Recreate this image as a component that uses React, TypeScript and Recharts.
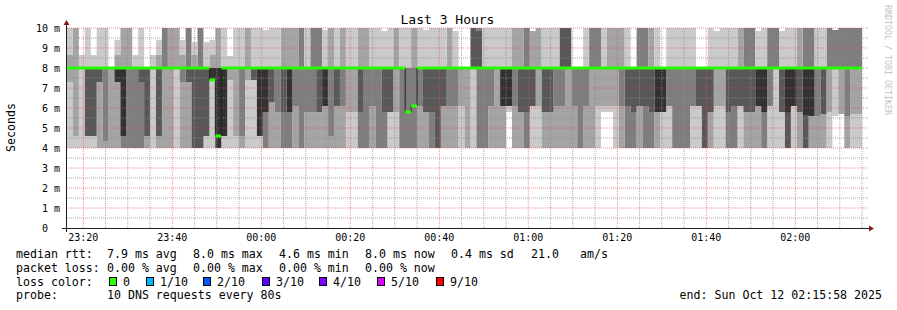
import { Area, ComposedChart, ReferenceLine, XAxis, YAxis } from "recharts"

const FONT = '"DejaVu Sans Mono", monospace'

// time axis in minutes after 23:00, graph covers 3 hours of 80 s steps
const startMin = 16 + 20 / 60
const stepMin = 80 / 60
const spanMin = 180

// the 10 sorted ping times (ms) of each 80 s step, 12 = above the top of the graph
const pings: number[][] = [
  [4, 7.3, 8, 8, 8, 8, 8, 8, 8.65, 12],
  [4, 4.6, 8, 8, 8, 8, 8, 8, 12, 12],
  [4, 8, 8, 8, 8, 8, 8, 8, 8, 8.65],
  [4, 4.6, 4.6, 4.6, 8, 8, 8, 8, 8, 12],
  [4, 4.6, 4.6, 4.6, 8, 8, 8, 8, 8, 8.65],
  [4, 4, 7.3, 7.3, 8, 8, 8, 8, 8, 12],
  [4, 4, 4.35, 8, 8, 8, 8, 8, 8, 12],
  [4, 4, 8, 8, 8, 8, 8, 8, 8, 8],
  [4, 4, 7.3, 7.3, 7.3, 8, 8, 8, 8.65, 9.4],
  [4, 4, 4, 4.6, 4.6, 8, 8, 8, 12, 12],
  [4, 4, 4, 8, 8, 8, 8, 8, 12, 12],
  [4, 4, 4, 8, 8, 8, 8, 8, 8, 8.65],
  [4, 4, 4, 7.3, 8, 8, 8, 8, 8, 12],
  [4, 4, 4.6, 4.6, 8, 8, 8, 8, 8, 8],
  [4, 8, 8, 8, 8, 8, 8, 8, 8, 8.65],
  [4, 4, 4.6, 4.6, 8, 8, 8, 8, 8.65, 9.4],
  [4, 4, 8, 8, 8, 8, 8, 12, 12, 12],
  [4, 4, 8, 8, 8, 8, 8, 8, 12, 12],
  [4, 8, 8, 8, 8, 8, 8, 8, 12, 12],
  [4, 4, 7.3, 8, 8, 8, 8, 8, 8.65, 9.4],
  [4, 4, 7.3, 7.3, 8, 8, 8, 12, 12, 12],
  [4, 4, 4, 4, 8, 8, 8, 8, 8.65, 9.3],
  [4, 4, 4, 4, 8, 8, 8, 12, 12, 12],
  [4, 4.6, 4.6, 4.6, 8, 8, 8, 8, 8, 9.3],
  [4, 7.4, 7.4, 7.4, 7.4, 8, 8, 8, 8.65, 9.4],
  [4, 4, 4, 4, 4, 8, 8, 8, 12, 12],
  [4, 4.6, 4.6, 4.6, 4.6, 8, 8, 8, 8, 12],
  [4, 7.4, 8, 8, 8, 8, 8, 8, 8, 8.6],
  [4, 4.6, 8, 8, 8, 8, 8, 8, 8, 12],
  [4, 4, 4.6, 8, 8, 8, 8, 8, 8, 12],
  [4, 7.4, 8, 8, 8, 8, 8, 8, 12, 12],
  [4, 7.4, 7.4, 7.4, 8, 8, 8, 8, 8, 12],
  [4, 4.6, 4.6, 4.6, 4.6, 8, 8, 8, 8, 12],
  [4, 4, 4, 5.8, 5.8, 8, 8, 8, 8, 9.9],
  [4, 4, 6.3, 6.3, 8, 8, 8, 8, 8, 12],
  [4, 4, 5.8, 8, 8, 8, 8, 8, 8, 12],
  [4, 4, 4, 5.8, 8, 8, 8, 8, 12, 12],
  [4, 4, 4, 5.8, 5.8, 8, 8, 8, 12, 12],
  [4, 4, 6.1, 8, 8, 8, 8, 8, 12, 12],
  [4, 4, 4, 8, 8, 8, 8, 12, 12, 12],
  [4, 4, 5.8, 8, 8, 8, 8, 8, 8, 12],
  [4, 4, 5.8, 8, 8, 8, 8, 12, 12, 12],
  [4, 4, 5.8, 5.8, 8, 8, 8, 12, 12, 12],
  [4, 4, 6.1, 6.1, 6.1, 8, 8, 8, 8, 9.9],
  [4, 4, 4.6, 8, 8, 8, 8, 8, 12, 12],
  [4, 4, 6.1, 6.1, 8, 8, 8, 8, 8, 12],
  [4, 4, 6.1, 8, 8, 8, 8, 8, 12, 12],
  [4, 5.8, 8, 8, 8, 8, 8, 8, 8, 12],
  [4, 5.8, 8, 8, 8, 8, 8, 8, 8, 12],
  [4, 4, 4, 5.8, 8, 8, 8, 8, 12, 12],
  [4, 4, 4, 8, 8, 8, 8, 8, 12, 12],
  [4, 4, 6.1, 8, 8, 8, 8, 8, 8, 12],
  [4, 4, 4, 8, 8, 8, 8, 8, 8, 12],
  [4, 4, 4, 5.8, 8, 8, 8, 8, 8, 9.85],
  [4, 5.8, 5.8, 5.8, 8, 8, 8, 8, 8, 12],
  [4, 5.8, 8, 8, 8, 8, 8, 8, 12, 12],
  [4, 4, 4, 8, 8, 8, 8, 8, 8, 12],
  [4, 4, 4, 8, 8, 8, 8, 8, 8, 12],
  [4, 4, 4, 8, 8, 8, 8, 8, 12, 12],
  [4, 4, 6.1, 8, 8, 8, 8, 8, 8, 12],
  [4, 4, 5.8, 5.8, 8, 8, 8, 8, 8, 9.9],
  [4, 4, 4, 5.8, 8, 8, 8, 8, 8, 12],
  [4, 4, 4, 4, 8, 8, 8, 8, 8, 12],
  [4, 4, 6.1, 6.1, 8, 8, 8, 8, 8, 12],
  [4, 4, 6.1, 8, 8, 8, 8, 8, 12, 12],
  [4, 4, 6.1, 8, 8, 8, 8, 8, 8, 9.85],
  [4, 6.1, 8, 8, 8, 8, 8, 8, 8, 8],
  [4, 4, 8, 8, 8, 8, 8, 8, 8, 8],
  [4, 8, 8, 8, 8, 8, 12, 12, 12, 12],
  [4, 4, 4, 8, 8, 8, 9.85, 12, 12, 12],
  [4, 4, 4, 8, 8, 8, 8, 8, 8, 12],
  [4, 4, 6.1, 8, 8, 8, 8, 8, 8, 12],
  [4, 4, 8, 8, 8, 8, 8, 8, 8, 12],
  [4, 4, 6.1, 6.1, 6.1, 8, 8, 8, 8, 12],
  [5.8, 6.1, 6.1, 6.1, 6.1, 8, 8, 8, 8, 12],
  [4, 4, 6.1, 8, 8, 8, 8, 8, 12, 12],
  [4, 4, 5.8, 5.8, 8, 8, 8, 8, 12, 12],
  [4, 4, 4, 5.8, 8, 8, 8, 12, 12, 12],
  [4, 6.1, 6.1, 6.1, 8, 8, 8, 8, 9.85, 9.85],
  [4, 6.1, 8, 8, 8, 8, 8, 8, 12, 12],
  [4, 4, 5.8, 5.8, 8, 8, 8, 8, 8, 12],
  [4, 4, 5.8, 5.8, 8, 8, 8, 8, 8, 12],
  [4, 4, 6.1, 8, 8, 8, 8, 8, 8, 12],
  [4, 4, 6.1, 8, 8, 8, 12, 12, 12, 12],
  [4, 4, 8, 8, 8, 8, 12, 12, 12, 12],
  [4, 4, 6.1, 8, 8, 8, 8, 8, 8, 8],
  [4, 4, 4, 8, 8, 8, 8, 8, 8, 8],
  [4, 4, 6.1, 8, 8, 8, 8, 8, 8, 12],
  [4, 4, 8, 8, 8, 8, 8, 12, 12, 12],
  [4, 6.1, 8, 8, 8, 8, 8, 12, 12, 12],
  [5.8, 6.1, 8, 8, 8, 8, 8, 8, 8, 12],
  [5.8, 6.1, 8, 8, 8, 8, 8, 8, 12, 12],
  [4, 6.1, 8, 8, 8, 8, 8, 8, 12, 12],
  [4, 4, 6.1, 8, 8, 8, 8, 8, 12, 12],
  [4, 4, 4, 6.1, 8, 8, 8, 8, 8, 12],
  [4, 4, 4, 5.8, 8, 8, 8, 8, 8, 8],
  [4, 4, 6.1, 6.1, 8, 8, 8, 12, 12, 12],
  [4, 4, 4, 6.1, 8, 8, 8, 12, 12, 12],
  [4, 4, 4, 5.8, 8, 8, 8, 8, 12, 12],
  [4, 4, 5.8, 5.8, 5.8, 8, 8, 8, 8, 12],
  [4, 5.8, 5.8, 5.8, 5.8, 8, 8, 8, 8, 8],
  [4, 6.1, 6.1, 8, 8, 8, 8, 8, 8, 12],
  [4, 4, 4, 8, 8, 8, 8, 8, 8, 12],
  [4, 4, 4, 8, 8, 8, 8, 8, 8, 12],
  [4, 4, 4, 8, 8, 8, 8, 8, 8, 12],
  [4, 6.1, 6.1, 8, 8, 8, 8, 8, 8, 12],
  [4, 6.1, 6.1, 6.1, 8, 8, 8, 8, 8, 8],
  [4, 4, 4, 4, 8, 8, 8, 8, 8, 8],
  [4, 4, 5.8, 5.8, 8, 8, 8, 8, 8, 12],
  [4, 6.1, 8, 8, 8, 8, 8, 8, 8, 9.85],
  [4, 6.1, 8, 8, 8, 8, 8, 8, 8, 12],
  [4, 4, 4, 5.8, 8, 8, 8, 8, 8, 12],
  [4, 4, 4, 6.1, 8, 8, 8, 8, 8, 12],
  [4, 6.1, 6.1, 6.1, 8, 8, 8, 8, 12, 12],
  [4, 4, 5.8, 5.8, 8, 8, 8, 12, 12, 12],
  [4, 4, 5.8, 5.8, 8, 8, 8, 12, 12, 12],
  [4, 4, 6.1, 6.1, 6.1, 8, 8, 8, 8, 9.85],
  [4, 4, 4, 5.8, 5.8, 8, 8, 8, 8, 12],
  [4, 6.1, 6.1, 8, 8, 8, 8, 12, 12, 12],
  [4, 8, 8, 8, 8, 8, 8, 12, 12, 12],
  [4, 5.8, 5.8, 5.8, 8, 8, 8, 8, 8, 9.85],
  [4, 4, 4, 4, 5.8, 8, 8, 8, 8, 12],
  [4, 6.1, 6.1, 6.1, 6.1, 8, 8, 8, 8, 12],
  [4, 4, 5.8, 5.8, 8, 8, 8, 8, 12, 12],
  [4, 4, 4, 4, 5.65, 8, 8, 12, 12, 12],
  [4, 4, 5.6, 5.6, 5.6, 8, 8, 12, 12, 12],
  [4, 4, 5.6, 8, 8, 8, 8, 8, 8, 12],
  [4, 4, 5.7, 5.7, 8, 8, 8, 8, 8, 12],
  [4, 5.8, 8, 8, 8, 8, 8, 12, 12, 12],
  [5.6, 8, 8, 8, 8, 8, 8, 9.9, 9.9, 9.9],
  [5.7, 5.7, 8, 8, 8, 8, 8, 12, 12, 12],
  [4, 4, 5.6, 8, 8, 8, 8, 12, 12, 12],
  [4, 5.7, 8, 8, 8, 8, 8, 12, 12, 12],
  [4, 5.7, 8, 8, 8, 8, 8, 12, 12, 12],
]

// median rtt (ms) of each step
const medianRtt: number[] = [
  8, 8, 8, 8, 8, 8, 8, 8, 8, 8, 8, 8, 8, 8, 8, 8, 8, 8, 8, 8,
  8, 8, 8, 8, 7.4, 4.6, 8, 8, 8, 8, 8, 8, 8, 8, 8, 8, 8, 8, 8, 8,
  8, 8, 8, 8, 8, 8, 8, 8, 8, 8, 8, 8, 8, 8, 8, 8, 8, 5.8, 6.1, 8,
  8, 8, 8, 8, 8, 8, 8, 8, 8, 8, 8, 8, 8, 8, 8, 8, 8, 8, 8, 8,
  8, 8, 8, 8, 8, 8, 8, 8, 8, 8, 8, 8, 8, 8, 8, 8, 8, 8, 8, 8,
  8, 8, 8, 8, 8, 8, 8, 8, 8, 8, 8, 8, 8, 8, 8, 8, 8, 8, 8, 8,
  8, 8, 8, 8, 8, 8, 8, 8, 8, 8, 8, 8, 8, 8,
]

const timeTicks = [20, 40, 60, 80, 100, 120, 140, 160, 180]
const valueTicks = [0, 1, 2, 3, 4, 5, 6, 7, 8, 9, 10]

// smoke shade of the band between ping k and ping k+1
const smokeShades = ["#cacaca", "#a4a4a4", "#7e7e7e", "#585858", "#323232", "#585858", "#7e7e7e", "#a4a4a4", "#cacaca"]

const lossLegend = [
  { label: "0", color: "#26ff00", x: 109 },
  { label: "1/10", color: "#00b8ff", x: 146 },
  { label: "2/10", color: "#0059ff", x: 203 },
  { label: "3/10", color: "#5e00ff", x: 262 },
  { label: "4/10", color: "#7e00ff", x: 319 },
  { label: "5/10", color: "#dd00ff", x: 377 },
  { label: "9/10", color: "#ff0000", x: 436 },
]

const rttStats = [
  { text: "7.9 ms avg", x: 107 },
  { text: "8.0 ms max", x: 193 },
  { text: "4.6 ms min", x: 279 },
  { text: "8.0 ms now", x: 365 },
  { text: "0.4 ms sd", x: 451 },
  { text: "21.0", x: 531 },
  { text: "am/s", x: 580 },
]

const lossStats = [
  { text: "0.00 % avg", x: 107 },
  { text: "0.00 % max", x: 193 },
  { text: "0.00 % min", x: 279 },
  { text: "0.00 % now", x: 365 },
]

const rows = pings.concat([pings[pings.length - 1]]).map((p, i) => {
  const med = medianRtt[Math.min(i, medianRtt.length - 1)]
  const row: Record<string, number> = {
    t: startMin + i * stepMin,
    base: p[0],
    med,
    medLo: med - 0.075,
    medBand: 0.15,
  }
  for (let k = 1; k < 10; k++) row[`s${k}`] = p[k] - p[k - 1]
  return row
})

const minorTimes: number[] = []
for (let t = 5; t < startMin + spanMin; t += 5) if (t > startMin && t % 20 !== 0) minorTimes.push(t)
const minorValues = [0.5, 1.5, 2.5, 3.5, 4.5, 5.5, 6.5, 7.5, 8.5, 9.5]

const clock = (t: number) => {
  const h = (23 + Math.floor(t / 60)) % 24
  const m = Math.round(t % 60)
  return `${String(h).padStart(2, "0")}:${String(m).padStart(2, "0")}`
}

function TimeTick(props: any) {
  const { x, payload } = props
  return (
    <text x={x} y={241} textAnchor="middle" fontFamily={FONT} fontSize={10} fill="#000">
      {clock(payload.value)}
    </text>
  )
}

function ValueTick(props: any) {
  const { y, payload } = props
  return (
    <g>
      <text x={48} y={y + 3.5} textAnchor="end" fontFamily={FONT} fontSize={10} fill="#000">
        {payload.value}
      </text>
      {payload.value !== 0 && (
        <text x={54} y={y + 3.5} fontFamily={FONT} fontSize={10} fill="#000">
          m
        </text>
      )}
    </g>
  )
}

const gridMinor = "rgba(143,143,143,0.75)"
const gridMajor = "rgba(222,79,79,0.6)"

export default function App() {
  const txt = { fontFamily: FONT, fontSize: 11.6, fill: "#000" }
  return (
    <div style={{ position: "absolute", left: 0, top: 0, width: 897, height: 310, background: "#fff" }}>
      <ComposedChart width={897} height={310} data={rows} margin={{ top: 28, right: 29, bottom: 0, left: 0 }}>
        <XAxis
          type="number"
          dataKey="t"
          domain={[startMin, startMin + spanMin]}
          allowDataOverflow
          ticks={timeTicks}
          interval={0}
          height={82}
          axisLine={false}
          tickLine={false}
          tick={<TimeTick />}
        />
        <YAxis
          type="number"
          domain={[0, 10]}
          allowDataOverflow
          ticks={valueTicks}
          interval={0}
          width={67}
          axisLine={false}
          tickLine={false}
          tick={<ValueTick />}
        />
        <Area dataKey="base" stackId="smoke" type="stepAfter" fill="none" stroke="none" isAnimationActive={false} />
        {smokeShades.map((c, k) => (
          <Area
            key={`s${k + 1}`}
            dataKey={`s${k + 1}`}
            stackId="smoke"
            type="stepAfter"
            fill={c}
            fillOpacity={1}
            stroke="none"
            isAnimationActive={false}
          />
        ))}
        {minorValues.map((v) => (
          <ReferenceLine key={`hm${v}`} y={v} stroke={gridMinor} strokeDasharray="1 1" zIndex={110} />
        ))}
        {minorTimes.map((t) => (
          <ReferenceLine key={`vm${t}`} x={t} stroke={gridMinor} strokeDasharray="1 1" zIndex={110} />
        ))}
        {valueTicks.slice(1).map((v) => (
          <ReferenceLine key={`hM${v}`} y={v} stroke={gridMajor} strokeDasharray="1 1" zIndex={111} />
        ))}
        {timeTicks.map((t) => (
          <ReferenceLine key={`vM${t}`} x={t} stroke={gridMajor} strokeDasharray="1 1" zIndex={111} />
        ))}
        <Area dataKey="med" type="stepAfter" fill="none" stroke="#202020" strokeWidth={1} isAnimationActive={false} zIndex={120} />
        <Area dataKey="medLo" stackId="median" type="stepAfter" fill="none" stroke="none" isAnimationActive={false} zIndex={121} />
        <Area dataKey="medBand" stackId="median" type="stepAfter" fill="#26ff00" fillOpacity={1} stroke="none" isAnimationActive={false} zIndex={121} />
      </ComposedChart>
      <svg width={897} height={310} style={{ position: "absolute", left: 0, top: 0, pointerEvents: "none" }}>
        <text x={447.5} y={24} textAnchor="middle" fontFamily={FONT} fontSize={13} fill="#000">
          Last 3 Hours
        </text>
        <text x={14.5} y={127.5} textAnchor="middle" transform="rotate(-90 14.5 127.5)" {...txt}>
          Seconds
        </text>
        <text x={885} y={5} transform="rotate(90 885 5)" fontFamily={FONT} fontSize={8.3} fill="#c4c4c4">
          RRDTOOL / TOBI OETIKER
        </text>
        <line x1={62} y1={228.5} x2={872} y2={228.5} stroke="#1f1f1f" />
        <line x1={66.5} y1={232} x2={66.5} y2={23} stroke="#1f1f1f" />
        <polygon points="869,225.5 874,228.5 869,231.5" fill="#801f1f" />
        <polygon points="63.5,25 66.5,20 69.5,25" fill="#801f1f" />
        <text x={16} y={257.5} {...txt}>median rtt:</text>
        {rttStats.map((s) => (
          <text key={s.text} x={s.x} y={257.5} {...txt} style={{ whiteSpace: "pre" }}>
            {s.text}
          </text>
        ))}
        <text x={16} y={271.5} {...txt}>packet loss:</text>
        {lossStats.map((s) => (
          <text key={s.text} x={s.x} y={271.5} {...txt}>
            {s.text}
          </text>
        ))}
        <text x={16} y={285.5} {...txt}>loss color:</text>
        {lossLegend.map((l) => (
          <g key={l.label}>
            <rect x={l.x + 0.5} y={277.5} width={7} height={8} fill={l.color} stroke="#000" />
            <text x={l.x + 14} y={285.5} {...txt}>
              {l.label}
            </text>
          </g>
        ))}
        <text x={16} y={299} {...txt}>probe:</text>
        <text x={107} y={299} {...txt}>10 DNS requests every 80s</text>
        <text x={882} y={299} textAnchor="end" {...txt}>end: Sun Oct 12 02:15:58 2025</text>
      </svg>
    </div>
  )
}
